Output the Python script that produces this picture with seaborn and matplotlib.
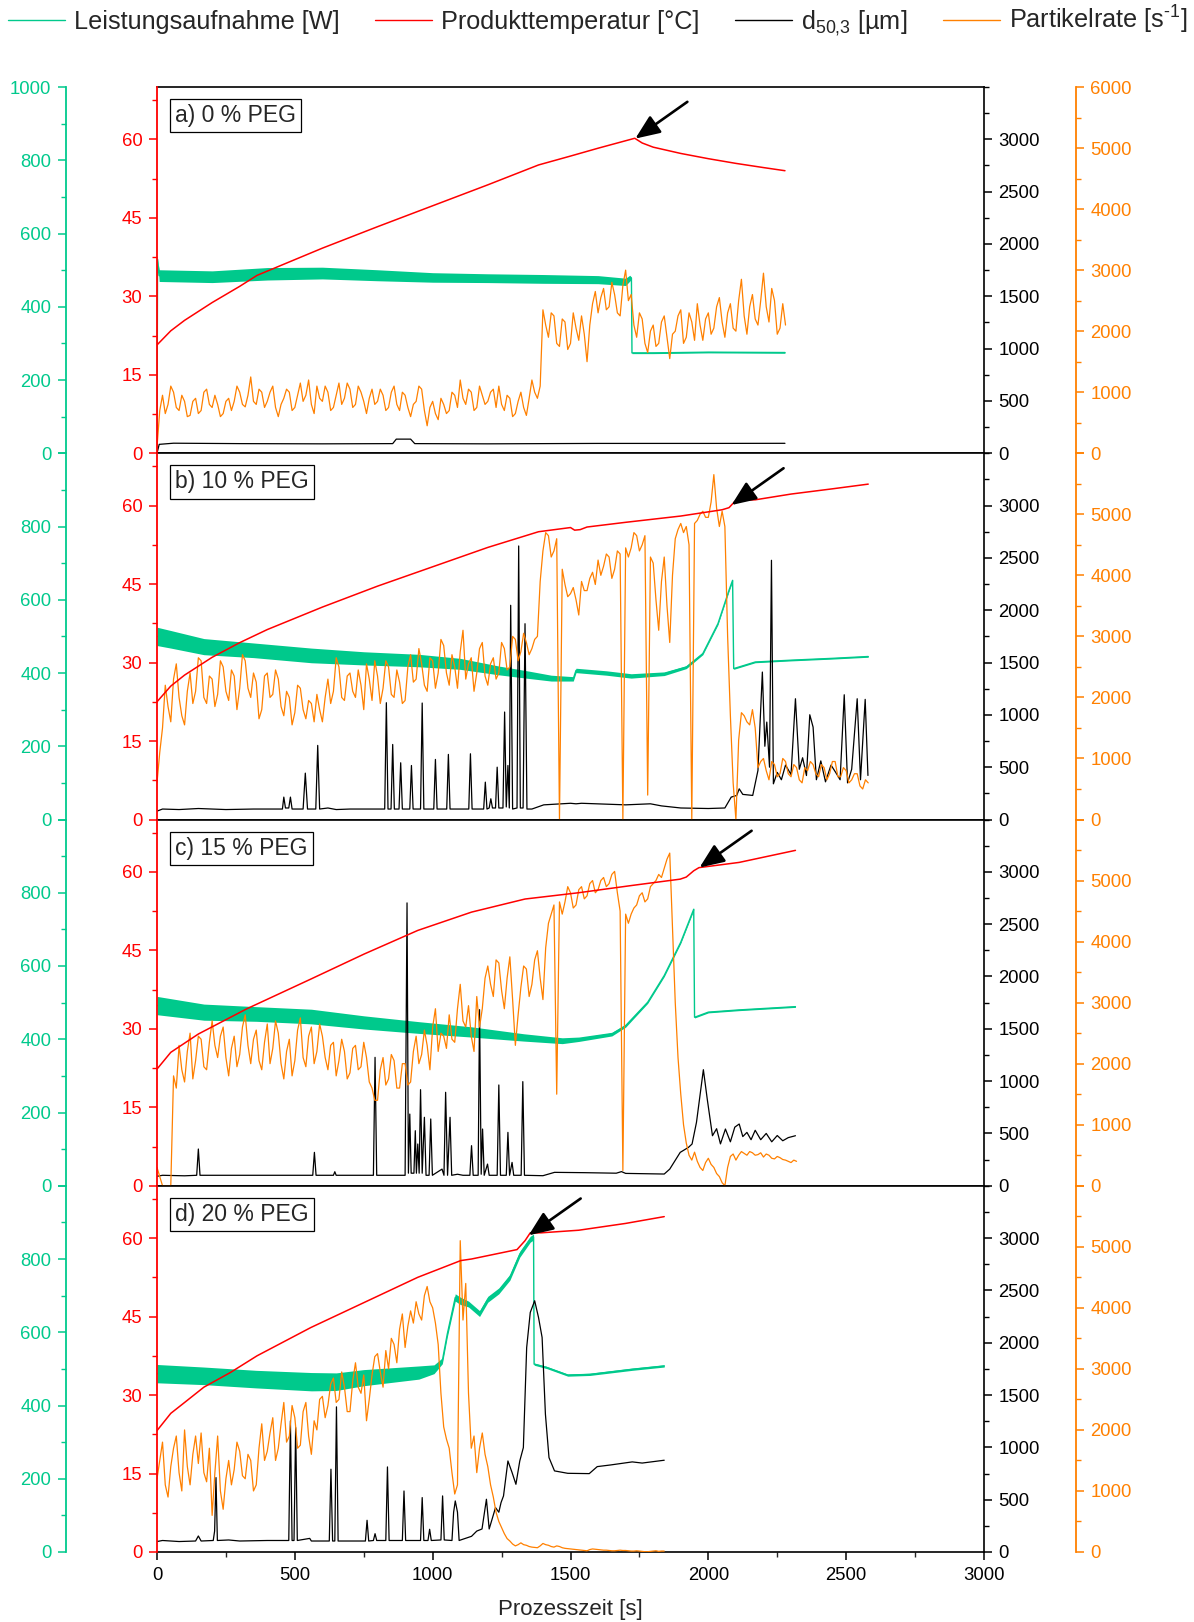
import numpy as np
import matplotlib
matplotlib.use("Agg")
import matplotlib.pyplot as plt
import seaborn as sns
from matplotlib.lines import Line2D
from matplotlib.ticker import MultipleLocator

sns.set_style("ticks")
plt.rcParams["font.family"] = ["Liberation Sans", "DejaVu Sans"]
plt.rcParams["mathtext.fontset"] = "custom"
plt.rcParams["mathtext.rm"] = "Liberation Sans"
plt.rcParams["mathtext.it"] = "Liberation Sans:italic"
plt.rcParams["mathtext.default"] = "regular"

GREEN = "#00C98C"
RED = "#FF0000"
ORANGE = "#FF8000"
BLACK = "#000000"

panel_labels = ["a) 0 % PEG", "b) 10 % PEG", "c) 15 % PEG", "d) 20 % PEG"]
series_labels = ["Leistungsaufnahme [W]", "Produkttemperatur [°C]",
                 r"d$_{50{,}3}$ [µm]", "Partikelrate [s$^{\u20101}$]"]
x_ticks = [0, 500, 1000, 1500, 2000, 2500, 3000]

# power input: (time s, mean W, noise half-width W)
green_a = [(0, 0, 0), (2, 530, 0), (8, 485, 16), (200, 482, 16), (400, 490, 17), (600, 492, 16),
           (800, 486, 15), (1000, 480, 13), (1200, 478, 12), (1400, 476, 12), (1600, 474, 11),
           (1700, 468, 10), (1715, 478, 8), (1721, 478, 3), (1723, 274, 2), (1800, 274, 2),
           (2000, 276, 2), (2278, 275, 2)]
green_b = [(0, 500, 25), (50, 492, 24), (170, 472, 22), (350, 462, 20), (560, 448, 20), (750, 440, 18),
           (950, 434, 17), (1100, 425, 15), (1240, 407, 12), (1350, 395, 10), (1430, 386, 8),
           (1510, 384, 6), (1520, 407, 6), (1630, 400, 6), (1720, 392, 6), (1840, 398, 5),
           (1920, 416, 4), (1980, 453, 3), (2035, 535, 3), (2075, 626, 3), (2088, 653, 3),
           (2092, 412, 2), (2170, 430, 2), (2300, 435, 2), (2450, 440, 2), (2580, 445, 2)]
green_c = [(0, 492, 25), (170, 474, 22), (360, 469, 20), (560, 462, 20), (750, 446, 18), (950, 432, 16),
           (1140, 420, 14), (1330, 405, 10), (1470, 396, 8), (1530, 400, 6), (1650, 414, 5),
           (1700, 437, 4), (1780, 501, 3), (1840, 574, 3), (1900, 665, 3), (1947, 755, 3),
           (1950, 460, 2), (2000, 474, 2), (2110, 480, 2), (2316, 489, 2)]
green_d = [(0, 487, 25), (170, 481, 24), (360, 472, 24), (560, 465, 25), (650, 465, 24), (750, 476, 22),
           (950, 490, 18), (1005, 499, 12), (1035, 522, 8), (1053, 595, 8), (1082, 695, 10),
           (1100, 686, 10), (1130, 677, 8), (1170, 651, 8), (1200, 690, 8), (1240, 713, 8),
           (1280, 750, 8), (1316, 813, 8), (1354, 854, 8), (1366, 860, 8), (1368, 513, 3),
           (1413, 504, 3), (1490, 483, 3), (1570, 485, 3), (1724, 499, 3), (1840, 508, 3)]

# product temperature: (time s, °C)
red_a = [(0, 20.7), (50, 23.4), (100, 25.4), (200, 28.8), (300, 31.9), (363, 34.0), (600, 39.2),
         (800, 43.3), (1000, 47.3), (1200, 51.3), (1384, 55.1), (1500, 56.8), (1600, 58.3),
         (1733, 60.2), (1760, 59.3), (1800, 58.5), (1900, 57.3), (2000, 56.3), (2100, 55.4),
         (2200, 54.6), (2278, 54.0)]
red_b = [(0, 22.5), (50, 25.5), (100, 27.6), (200, 31.0), (300, 33.8), (400, 36.3), (600, 40.6),
         (800, 44.6), (1000, 48.3), (1200, 52.0), (1384, 55.0), (1500, 55.8), (1515, 55.3),
         (1535, 55.4), (1560, 55.9), (1700, 56.8), (1900, 58.0), (2050, 59.2), (2075, 59.6),
         (2100, 61.0), (2170, 61.1), (2300, 62.2), (2450, 63.2), (2580, 64.1)]
red_c = [(0, 22.3), (50, 25.5), (150, 29.0), (325, 33.8), (558, 39.5), (752, 44.3), (946, 48.8),
         (1141, 52.3), (1335, 54.8), (1529, 56.0), (1724, 57.4), (1898, 58.6), (1920, 59.0),
         (1947, 60.2), (1966, 60.8), (2112, 61.8), (2316, 64.1)]
red_d = [(0, 23.2), (50, 26.5), (91, 28.2), (170, 31.5), (266, 34.3), (363, 37.5), (558, 42.9),
         (752, 47.7), (946, 52.5), (1102, 55.7), (1141, 56.0), (1306, 57.8), (1335, 59.5),
         (1354, 61.0), (1393, 61.0), (1530, 61.5), (1700, 62.8), (1840, 64.1)]

# particle size d50,3: (time s, µm)
black_a = [(0, 0), (8, 85), (60, 96), (300, 92), (600, 90), (855, 92), (868, 135), (920, 135),
           (935, 92), (1200, 90), (1600, 94), (2000, 94), (2278, 95)]
black_b = [(0, 80), (20, 100), (80, 95), (150, 105), (250, 95), (350, 100), (455, 100), (460, 214),
           (466, 110), (478, 110), (484, 214), (490, 100), (530, 100), (538, 443), (546, 100),
           (576, 100), (583, 708), (590, 100), (620, 110), (650, 95), (700, 100), (826, 100),
           (832, 1116), (838, 100), (849, 100), (855, 717), (861, 100), (878, 100), (884, 542),
           (890, 100), (917, 100), (923, 516), (929, 100), (956, 100), (962, 1113), (968, 100),
           (1004, 100), (1010, 574), (1016, 100), (1051, 100), (1057, 622), (1063, 100),
           (1131, 100), (1137, 628), (1143, 100), (1185, 100), (1191, 357), (1197, 100),
           (1205, 110), (1211, 198), (1217, 110), (1228, 110), (1234, 500), (1240, 110),
           (1255, 110), (1261, 1027), (1267, 120), (1273, 516), (1278, 110), (1283, 2047),
           (1290, 100), (1306, 110), (1312, 2614), (1318, 110), (1328, 110), (1335, 1871),
           (1342, 100), (1360, 100), (1403, 140), (1500, 155), (1520, 150), (1540, 155),
           (1700, 140), (1790, 150), (1830, 130), (1900, 110), (2000, 105), (2060, 110),
           (2083, 214), (2103, 230), (2112, 293), (2125, 240), (2161, 230), (2180, 469),
           (2196, 1409), (2205, 700), (2212, 931), (2222, 500), (2229, 2477), (2236, 341),
           (2250, 450), (2265, 380), (2280, 520), (2300, 430), (2316, 1154), (2330, 480),
           (2342, 590), (2356, 420), (2368, 1001), (2380, 883), (2392, 380), (2408, 560),
           (2425, 360), (2445, 520), (2462, 450), (2478, 380), (2493, 1192), (2505, 350),
           (2520, 480), (2540, 1154), (2552, 380), (2569, 1148), (2579, 421)]
black_c = [(0, 90), (20, 100), (100, 95), (144, 100), (150, 351), (156, 100), (300, 100), (565, 100),
           (571, 319), (577, 100), (640, 100), (645, 134), (650, 100), (785, 100), (791, 1227),
           (797, 100), (900, 100), (907, 2703), (912, 120), (917, 685), (922, 120), (932, 120),
           (937, 526), (941, 120), (946, 399), (951, 120), (956, 918), (962, 120), (970, 654),
           (976, 100), (987, 100), (993, 638), (999, 100), (1034, 159), (1041, 100), (1047, 893),
           (1054, 100), (1063, 654), (1069, 100), (1090, 110), (1110, 100), (1135, 100),
           (1141, 383), (1147, 100), (1165, 100), (1170, 1683), (1176, 110), (1181, 542),
           (1187, 100), (1199, 207), (1205, 100), (1234, 100), (1240, 963), (1246, 100),
           (1267, 100), (1273, 510), (1279, 100), (1288, 223), (1294, 100), (1321, 100),
           (1327, 995), (1333, 100), (1400, 96), (1442, 128), (1550, 125), (1666, 120),
           (1685, 135), (1700, 118), (1840, 112), (1860, 159), (1898, 319), (1928, 367),
           (1941, 399), (1957, 606), (1982, 1109), (1996, 829), (2015, 478), (2030, 545),
           (2044, 400), (2062, 542), (2080, 420), (2096, 560), (2112, 590), (2125, 470),
           (2140, 510), (2155, 440), (2170, 530), (2190, 440), (2210, 500), (2230, 420),
           (2250, 480), (2270, 430), (2290, 460), (2316, 478)]
black_d = [(0, 100), (20, 110), (80, 100), (140, 105), (150, 153), (160, 105), (204, 110), (209, 200),
           (214, 711), (219, 110), (260, 115), (300, 105), (400, 110), (478, 110), (484, 1253),
           (490, 110), (497, 110), (503, 1189), (509, 110), (554, 130), (560, 105), (625, 105),
           (631, 791), (637, 105), (645, 105), (651, 1387), (657, 105), (700, 105), (756, 105),
           (762, 303), (768, 105), (785, 110), (791, 175), (797, 110), (830, 110), (836, 813),
           (842, 110), (890, 110), (896, 583), (902, 110), (956, 110), (962, 520), (968, 110),
           (983, 110), (989, 217), (995, 110), (1030, 115), (1036, 536), (1042, 115), (1070, 110),
           (1076, 380), (1082, 488), (1090, 380), (1096, 110), (1141, 150), (1160, 200),
           (1179, 220), (1195, 504), (1205, 220), (1228, 424), (1240, 380), (1248, 472),
           (1257, 536), (1273, 870), (1288, 760), (1302, 647), (1316, 870), (1329, 998),
           (1341, 1954), (1354, 2289), (1370, 2401), (1384, 2241), (1397, 2050), (1409, 1317),
           (1422, 902), (1442, 775), (1490, 752), (1568, 749), (1597, 816), (1646, 832),
           (1724, 861), (1760, 850), (1840, 877)]

# particle rate, sampled every 10 s [1/s]
RATE_STEP = 10
orange_a = [100, 700, 950, 650, 800, 1100, 1000, 750, 700, 950, 850, 600, 620, 850, 900, 650, 700, 1000, 1050, 800,
            750, 950, 800, 600, 650, 850, 900, 700, 850, 1100, 1000, 800, 760, 950, 1250, 850, 800, 1050, 1000, 750,
            850, 1000, 1100, 750, 600, 800, 900, 1050, 1000, 700, 750, 950, 1150, 850, 950, 1200, 800, 650, 1100, 900,
            850, 1100, 1000, 700, 750, 950, 1150, 800, 900, 1150, 1050, 750, 800, 1100, 1000, 850, 650, 900, 1050, 800,
            850, 1050, 950, 700, 750, 1000, 1100, 800, 700, 1000, 950, 750, 600, 800, 850, 1100, 1050, 700, 450, 750,
            850, 650, 550, 900, 800, 650, 700, 1000, 950, 750, 1200, 900, 800, 1050, 1000, 700, 750, 1100, 950, 800,
            850, 1000, 1050, 750, 1100, 800, 700, 950, 900, 600, 650, 850, 1000, 750, 620, 900, 1200, 1000, 900, 1100,
            2350, 2100, 1900, 2300, 2250, 1800, 1750, 2200, 2150, 1700, 1800, 2300, 2050, 1850, 2250, 1950, 1500, 2100, 2450, 2650,
            2300, 2550, 2700, 2350, 2400, 2800, 2600, 2300, 2250, 2750, 3000, 2500, 2600, 2100, 1900, 2300, 2200, 1800, 1650, 2000,
            2100, 1750, 1800, 2150, 2250, 1900, 1550, 1950, 2000, 2250, 2350, 1800, 1900, 2300, 2150, 1850, 2450, 2100, 1850, 2200,
            2300, 1950, 2050, 2400, 2550, 2150, 1900, 2300, 2450, 2050, 2000, 2500, 2850, 2250, 1950, 2400, 2600, 2200, 2100, 2500,
            2950, 2400, 2150, 2700, 2500, 1950, 2050, 2450, 2100]
orange_b = [600, 1100, 1500, 2200, 1850, 1600, 2300, 2550, 2000, 1700, 1550, 2100, 2400, 1900, 2100, 2650, 2600, 2000, 1900, 2350,
            2300, 1850, 2050, 2600, 2500, 2100, 1950, 2450, 2350, 1800, 2150, 2700, 2600, 2150, 2000, 2400, 2250, 1650, 1800, 2350,
            2400, 2000, 2050, 2450, 2300, 1850, 1700, 2100, 2000, 1550, 1750, 2200, 2150, 1800, 1650, 1950, 1900, 1600, 2050, 1800,
            1600, 2000, 2300, 1900, 2100, 2650, 2500, 2000, 1950, 2350, 2400, 2100, 2000, 2450, 2200, 1800, 2550, 2300, 1950, 2600,
            2350, 1900, 2150, 2600, 2500, 2050, 2000, 2450, 2250, 1900, 1950, 2500, 2700, 2250, 2300, 2800, 2550, 2200, 2100, 2650,
            2600, 2150, 2400, 2950, 2850, 2400, 2200, 2700, 2500, 2150, 2750, 3100, 2300, 2550, 2650, 2100, 2400, 2800, 2900, 2350,
            2200, 2550, 2650, 2300, 2400, 2900, 2800, 2450, 2500, 3000, 2950, 2600, 2750, 3050, 2900, 2700, 2800, 2950, 3000, 3900,
            4400, 4700, 4650, 4300, 4400, 4600, 0, 4100, 3850, 3650, 3700, 3800, 3600, 3350, 3900, 3750, 3750, 3950, 4050, 3850,
            4250, 4000, 4150, 4350, 4300, 3950, 4100, 4400, 4350, 0, 4450, 4300, 4450, 4700, 4650, 4400, 4500, 4650, 400, 4300,
            4200, 3600, 3100, 3900, 4300, 3500, 2900, 4000, 4600, 4750, 4850, 4700, 4800, 4500, 0, 4850, 4900, 5000, 5050, 4950,
            4950, 5200, 5650, 5100, 4800, 5050, 4800, 3000, 1700, 600, 0, 1300, 1750, 1700, 1600, 1550, 1800, 1500, 850, 950,
            1000, 800, 650, 950, 900, 700, 750, 1000, 950, 750, 700, 900, 850, 650, 600, 850, 800, 950, 900, 750,
            700, 900, 850, 650, 750, 950, 950, 700, 700, 850, 800, 600, 650, 750, 750, 550, 500, 650, 600]
orange_c = [300, 150, 0, 0, 0, 0, 1800, 1600, 2300, 1900, 1700, 2200, 2500, 1750, 2050, 2450, 2400, 1950, 1900, 2350,
            2700, 2300, 2100, 2450, 2600, 2100, 1800, 2250, 2450, 1950, 2150, 2600, 2800, 2300, 2000, 2400, 2550, 2050, 1900, 2350,
            2650, 2000, 2250, 2700, 2500, 2000, 1750, 2200, 2400, 1800, 2050, 2550, 2750, 2100, 1950, 2450, 2600, 2000, 2200, 2650,
            2450, 2100, 1900, 2300, 2350, 1800, 2050, 2400, 2200, 1750, 1850, 2250, 2300, 1900, 1950, 2350, 2100, 1700, 1600, 1400,
            1400, 1900, 2100, 1650, 1750, 2150, 2050, 1600, 1600, 2000, 2000, 1650, 1700, 2200, 2450, 2000, 2150, 2550, 2300, 1900,
            2600, 2900, 2200, 2500, 2450, 2250, 2800, 2400, 2350, 2900, 3300, 2700, 2600, 2950, 2450, 2200, 3100, 2600, 2900, 3400,
            3600, 3300, 3100, 3700, 3650, 3200, 2900, 3400, 3750, 3050, 2300, 2800, 3250, 3600, 3550, 3100, 3300, 3700, 3850, 3400,
            3050, 3900, 4300, 4450, 4600, 1500, 4650, 4450, 4650, 4900, 4800, 4550, 4600, 4850, 4900, 4700, 4750, 4950, 5000, 4800,
            4850, 5000, 5050, 4900, 4950, 5100, 5150, 4800, 4500, 250, 4450, 4300, 4450, 4550, 4600, 4750, 4800, 4650, 4700, 4900,
            4950, 5000, 5100, 5050, 5200, 5350, 5450, 4200, 3000, 2100, 1500, 1000, 700, 500, 420, 550, 400, 300, 250, 380,
            450, 350, 300, 200, 150, 50, 0, 300, 480, 520, 420, 500, 560, 530, 500, 560, 540, 500, 510, 540,
            470, 520, 500, 450, 440, 480, 460, 430, 420, 400, 380, 420, 400]
orange_d = [1200, 1500, 1800, 1100, 900, 1400, 1700, 1900, 1300, 1000, 2000, 1400, 1100, 1600, 1900, 1450, 1950, 1300, 1150, 1700,
            600, 1300, 1900, 1000, 700, 1200, 1500, 1100, 1350, 1800, 1650, 1250, 1200, 1600, 1500, 1000, 1100, 1700, 2100, 1500,
            1650, 1950, 2200, 1500, 1700, 2100, 2450, 1800, 1900, 2400, 2200, 1700, 1750, 2300, 2450, 1900, 1600, 2150, 2000, 2500,
            2550, 2200, 2400, 2750, 2850, 2450, 2500, 2950, 2700, 2300, 2300, 2800, 3100, 2700, 2600, 2900, 2150, 2500, 2900, 3200,
            3250, 2950, 2700, 3300, 3000, 3500, 3400, 3100, 3650, 3900, 3350, 3700, 3950, 3750, 4100, 3900, 3800, 4200, 4350, 4100,
            4000, 3750, 3400, 2600, 2050, 1850, 1700, 1300, 950, 1100, 5100, 3800, 4400, 2600, 1700, 1900, 1300, 1700, 1950, 1600,
            1400, 1100, 900, 650, 500, 400, 300, 220, 180, 130, 100, 120, 150, 120, 110, 90, 80, 75, 70, 100,
            140, 120, 110, 90, 80, 100, 90, 70, 60, 55, 50, 45, 40, 35, 30, 25, 20, 40, 50, 45,
            40, 35, 30, 30, 25, 20, 20, 25, 30, 25, 25, 20, 15, 15, 20, 15, 10, 5, 5, 10,
            15, 20, 10, 15, 15]

# time at which the product temperature shows the marked event
event_times = [1735, 2084, 1968, 1348]

greens = [green_a, green_b, green_c, green_d]
reds = [red_a, red_b, red_c, red_d]
blacks = [black_a, black_b, black_c, black_d]
oranges = [orange_a, orange_b, orange_c, orange_d]

FW, FH = 1194, 1622
PX_L, PX_R, PX_TOP, PANEL_H = 157, 984, 87, 366.25

fig = plt.figure(figsize=(FW / 100, FH / 100), dpi=100)

TICK_KW = dict(labelsize=13.3, pad=4.5)


def style_y(ax, color, major, minor, lim, labels):
    ax.set_ylim(*lim)
    ax.set_yticks(major)
    ax.set_yticklabels(labels)
    ax.yaxis.set_minor_locator(MultipleLocator(minor))
    ax.tick_params(axis="y", which="major", direction="out", length=6, width=1.1,
                   colors=color, **TICK_KW)
    ax.tick_params(axis="y", which="minor", direction="out", length=3.5, width=1.0, colors=color)
    ax.set_ylabel("")


for i in range(4):
    y_top = PX_TOP + i * PANEL_H
    rect = [PX_L / FW, 1 - (y_top + PANEL_H) / FH, (PX_R - PX_L) / FW, PANEL_H / FH]
    ax_g = fig.add_axes(rect)
    ax_k = ax_g.twinx()
    ax_o = ax_g.twinx()
    ax_r = ax_g.twinx()

    # power input: noisy ribbon around its mean
    tg, vg, hg = (np.array(c, dtype=float) for c in zip(*greens[i]))
    ax_g.fill_between(tg, vg - hg, vg + hg, color=GREEN, lw=0)
    sns.lineplot(x=tg, y=vg, ax=ax_g, color=GREEN, lw=1.0, estimator=None, sort=False, legend=False)

    tk, vk = (np.array(c, dtype=float) for c in zip(*blacks[i]))
    sns.lineplot(x=tk, y=vk, ax=ax_k, color=BLACK, lw=0.9, estimator=None, sort=False, legend=False)

    vo = np.array(oranges[i], dtype=float)
    to = np.arange(len(vo)) * RATE_STEP
    sns.lineplot(x=to, y=vo, ax=ax_o, color=ORANGE, lw=0.9, estimator=None, sort=False, legend=False)

    tr, vr = (np.array(c, dtype=float) for c in zip(*reds[i]))
    sns.lineplot(x=tr, y=vr, ax=ax_r, color=RED, lw=1.1, estimator=None, sort=False, legend=False)

    for ax in (ax_g, ax_k, ax_o, ax_r):
        ax.set_xlim(0, 3000)
        ax.set_xlabel("")

    # spines
    ax_g.spines["left"].set_position(("outward", 65.5))
    ax_g.spines["left"].set_color(GREEN)
    ax_g.spines["left"].set_linewidth(1.3)
    ax_g.spines["right"].set_visible(False)
    for s in ("top", "bottom"):
        ax_g.spines[s].set_color(BLACK)
        ax_g.spines[s].set_linewidth(1.2)
    for ax in (ax_k, ax_o, ax_r):
        for s in ("left", "right", "top", "bottom"):
            ax.spines[s].set_visible(False)
    ax_k.spines["right"].set_visible(True)
    ax_k.spines["right"].set_color(BLACK)
    ax_k.spines["right"].set_linewidth(1.2)
    ax_o.spines["right"].set_visible(True)
    ax_o.spines["right"].set_position(("outward", 66))
    ax_o.spines["right"].set_color(ORANGE)
    ax_o.spines["right"].set_linewidth(1.3)
    ax_r.yaxis.tick_left()
    ax_r.spines["left"].set_visible(True)
    ax_r.spines["left"].set_color(RED)
    ax_r.spines["left"].set_linewidth(1.3)

    g_ticks = list(range(0, 1001, 200))
    o_ticks = list(range(0, 6001, 1000))
    style_y(ax_g, GREEN, g_ticks, 100, (0, 1000),
            [str(v) if (i == 0 or v < 1000) else "" for v in g_ticks])
    style_y(ax_o, ORANGE, o_ticks, 500, (0, 6000),
            [str(v) if (i == 0 or v < 6000) else "" for v in o_ticks])
    k_ticks = list(range(0, 3001, 500))
    style_y(ax_k, BLACK, k_ticks, 250, (0, 3500), [str(v) for v in k_ticks])
    r_ticks = [0, 15, 30, 45, 60]
    style_y(ax_r, RED, r_ticks, 7.5, (0, 70), [str(v) for v in r_ticks])

    ax_g.set_xticks(x_ticks)
    ax_g.xaxis.set_minor_locator(MultipleLocator(250))
    if i < 3:
        ax_g.tick_params(axis="x", which="both", bottom=False, top=False, labelbottom=False)
    else:
        ax_g.set_xticklabels([str(v) for v in x_ticks])
        ax_g.tick_params(axis="x", which="major", direction="out", length=6, width=1.1,
                         colors=BLACK, **TICK_KW)
        ax_g.tick_params(axis="x", which="minor", direction="out", length=3.5, width=1.0)
        ax_g.set_xlabel("Prozesszeit [s]", fontsize=16, labelpad=11)

    ax_r.text(0.022, 0.953, panel_labels[i], transform=ax_r.transAxes, fontsize=16.5,
              va="top", ha="left", zorder=10,
              bbox=dict(boxstyle="square,pad=0.22", fc="white", ec="black", lw=0.9))

    t_ev = event_times[i]
    ax_r.annotate("", xy=(t_ev, np.interp(t_ev, tr, vr)), xytext=(37.5, 26.5),
                  textcoords="offset points",
                  arrowprops=dict(arrowstyle="-|>,head_length=0.6,head_width=0.25",
                                  color=BLACK, lw=1.9, mutation_scale=25,
                                  shrinkA=0, shrinkB=0))

handles = [Line2D([], [], color=c, lw=1.0) for c in (GREEN, RED, BLACK, ORANGE)]
fig.legend(handles, series_labels, loc="center left", bbox_to_anchor=(8 / FW, 1 - 21 / FH),
           ncol=4, frameon=False, fontsize=18.2, handlelength=2.25, handletextpad=0.35,
           columnspacing=1.42, borderpad=0, borderaxespad=0)

fig.savefig("out.png", dpi=100)
